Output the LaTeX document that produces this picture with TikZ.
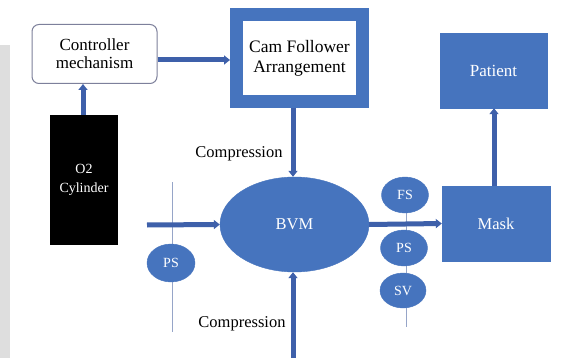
\documentclass[tikz,border=0pt]{standalone}
\usepackage{fontspec}
\setmainfont{Liberation Serif}
\newfontfamily\tnr{Liberation Serif}
\usetikzlibrary{arrows.meta,shapes.geometric}
\definecolor{bblue}{RGB}{70,116,190}
\definecolor{adark}{RGB}{62,96,170}
\definecolor{thinline}{RGB}{150,165,200}
\definecolor{ctrlborder}{RGB}{125,128,155}
\begin{document}
\begin{tikzpicture}[x=1pt,y=-1pt,
  bluebox/.style={draw=bblue,fill=bblue,text=white,inner sep=0pt,font=\tnr\fontsize{16.5}{19}\selectfont},
  blueell/.style={ellipse,draw=bblue,fill=bblue,text=white,inner sep=0pt,font=\tnr\fontsize{14}{16}\selectfont},
  flow/.style={draw=adark,line width=5pt,-{Triangle[length=6pt,width=9pt]}},
  thin/.style={draw=thinline,line width=0.7pt},
  lbl/.style={font=\tnr\fontsize{16.5}{19}\selectfont,inner sep=0pt}]
\useasboundingbox (0,0) rectangle (588,358);
\fill[white] (0,0) rectangle (588,358);
\fill[black!13] (0,45) rectangle (10,358);
% nodes
\node[draw=ctrlborder,rounded corners=7pt,line width=1pt,minimum width=125pt,minimum height=59pt,align=center,font=\tnr\fontsize{17}{18}\selectfont,inner sep=0pt] (ctrl) at (94.5,54) {Controller\\mechanism};
\node[draw=bblue,line width=13pt,fill=white,minimum width=126pt,minimum height=87pt,align=center,font=\tnr\fontsize{17.5}{20}\selectfont,inner sep=0pt] (cam) at (299.5,58) {Cam Follower\\Arrangement};
\node[fill=black,text=white,minimum width=68pt,minimum height=130pt,align=center,font=\tnr\fontsize{14}{19}\selectfont,inner sep=0pt] (o2) at (84,180) {O2\\Cylinder};
\node[blueell,minimum width=149pt,minimum height=95pt,font=\tnr\fontsize{16.5}{19}\selectfont] (bvm) at (294.5,224.5) {BVM};
\node[bluebox,minimum width=107pt,minimum height=75pt,font=\tnr\fontsize{17}{19}\selectfont] (patient) at (493.5,70.5) {Patient};
\node[bluebox,minimum width=108pt,minimum height=75pt] (mask) at (496,223.5) {Mask};
% thin lines
\coordinate (lt) at (172,182);
\coordinate (lb) at (172,332);
\draw[thin] (lt) -- (lb);
\coordinate (rt) at (406,210);
\coordinate (rb) at (406,327);
\draw[thin] (rt) -- (rb);
\node[blueell,minimum width=48pt,minimum height=38pt] (psl) at (171,263) {PS};
\node[blueell,minimum width=47pt,minimum height=36pt] (fs) at (405,195) {FS};
\node[blueell,minimum width=47pt,minimum height=36pt] (psr) at (404,248) {PS};
\node[blueell,minimum width=46pt,minimum height=35pt] (sv) at (403,290.5) {SV};
% arrows
\draw[flow] (o2.north -| 83,0) coordinate (o2a) -- (o2a |- ctrl.south);
\draw[flow] (ctrl.east |- 0,60) coordinate (ca) -- (ca -| cam.west);
\draw[flow] (cam.south -| 293,0) coordinate (cb) -- (cb |- bvm.north);
\coordinate (inl) at (147,225);
\draw[flow] (inl) -- (bvm.west);
\draw[flow] (bvm.east) -- (mask.west);
\draw[flow] (mask.north -| 494,0) coordinate (mp) -- (mp |- patient.south);
\coordinate (bot) at (293,358);
\draw[flow] (bot) -- (bvm.south -| bot);
% labels
\node[lbl] (comp1) at (239,154) {Compression};
\node[lbl] (comp2) at (242,324) {Compression};
\end{tikzpicture}
\end{document}
